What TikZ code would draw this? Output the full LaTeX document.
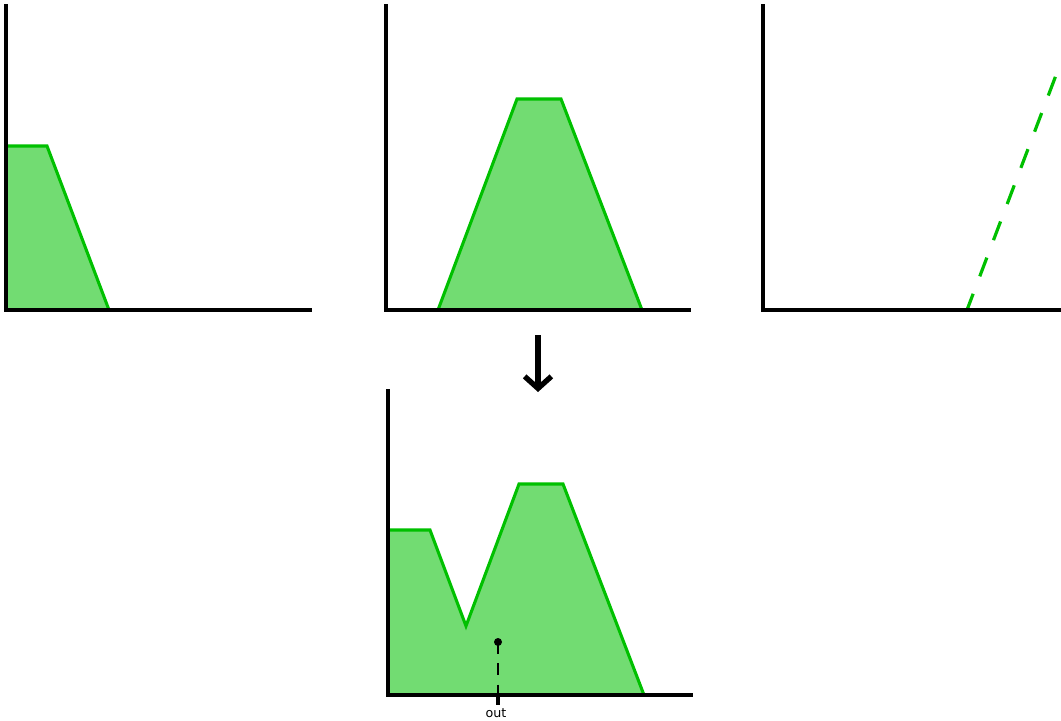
\documentclass[tikz,border=0pt]{standalone}
\usepackage{fontspec}
\setmainfont{DejaVu Sans}
\usetikzlibrary{arrows.meta}
\definecolor{mfill}{HTML}{72DC72}
\definecolor{mline}{HTML}{00C000}
\tikzset{
  axis/.style={line width=3pt, black},
  mf/.style={fill=mfill, draw=mline, line width=2.3pt, line join=miter},
  mdash/.style={draw=mline, line width=2.4pt, dash pattern=on 15pt off 14pt, dash phase=2pt},
}
\begin{document}
\begin{tikzpicture}[x=0.75pt,y=-0.75pt]
\useasboundingbox (0,0) rectangle (1061,721);
% panel 1
\path[mf] (6,310) -- (6,146) -- (47,146) -- (109,310) -- cycle;
\draw[axis] (6,4) -- (6,310) -- (312,310);
% panel 2
\path[mf] (438,310) -- (517,99) -- (561,99) -- (642,310) -- cycle;
\draw[axis] (386,4) -- (386,310) -- (691,310);
% panel 3
\draw[mdash] (967,310) -- (1061,62);
\draw[axis] (763,4) -- (763,310) -- (1061,310);
% arrow
\coordinate (a1) at (538,335);
\coordinate (a2) at (538,392);
\draw[line width=4pt, -{Straight Barb[length=9pt,width=20pt,line width=4pt]}] (a1) -- (a2);
% panel 4
\path[mf] (388,695) -- (388,530) -- (430,530) -- (466,626) -- (519,484) -- (563,484) -- (644,695) -- cycle;
\coordinate (p) at (498,642);
\coordinate (t) at (498,705);
\draw[line width=1.5pt, dash pattern=on 9pt off 7pt] (p) -- (t);
\fill (p) circle (3pt);
\draw[axis] (388,389) -- (388,695) -- (693,695);
\draw[line width=2.4pt] (498,695) -- (t);
\node[font=\fontsize{9.5}{11}\selectfont, anchor=center] (out) at (496,713) {out};
\end{tikzpicture}
\end{document}
